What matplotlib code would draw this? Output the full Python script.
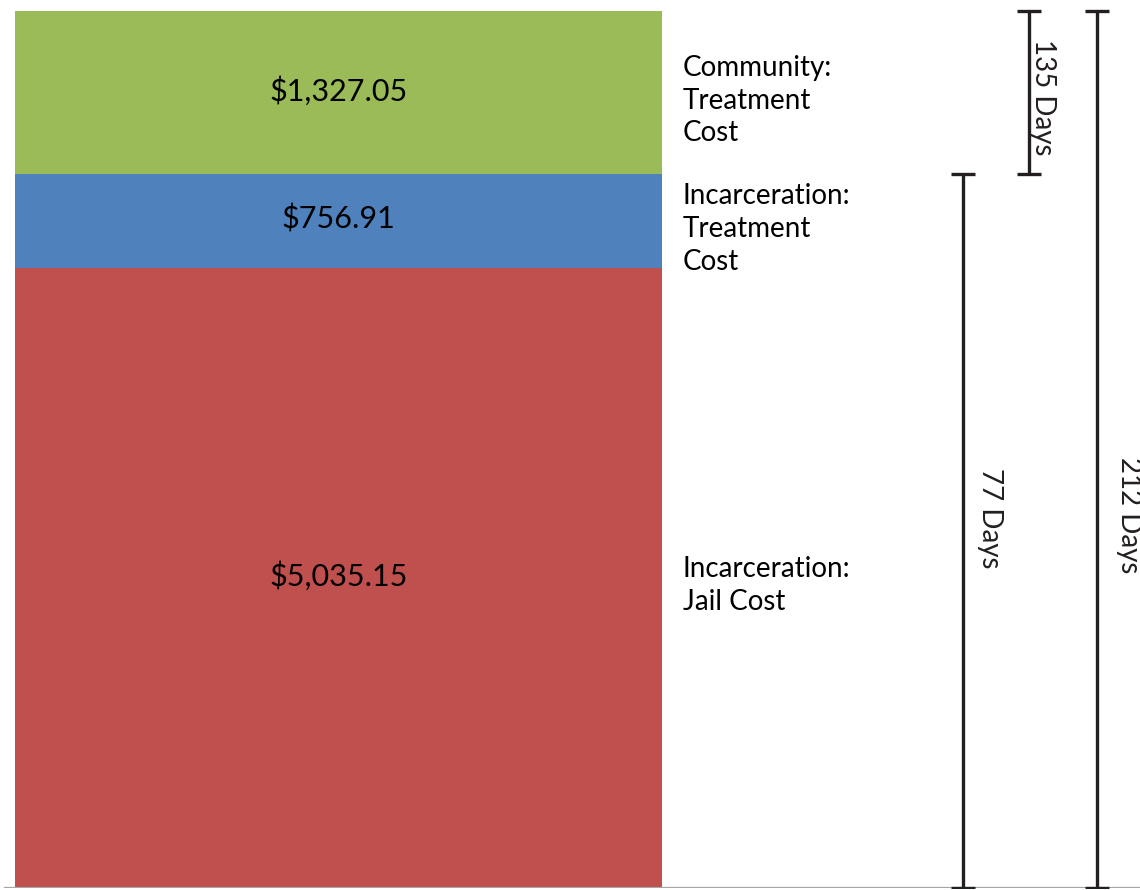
import matplotlib.pyplot as plt

# donnees du graphique
segments = ["Incarceration:\nJail Cost", "Incarceration:\nTreatment\nCost", "Community:\nTreatment\nCost"]
couts = [5035.15, 756.91, 1327.05]
couleurs = ["#C0504D", "#4F81BD", "#9BBB59"]
jours_incarc = 77
jours_commu = 135
jours_total = 212

total = sum(couts)
plt.rcParams['font.family'] = ['Lato', 'DejaVu Sans']

fig = plt.figure(figsize=(11.4, 8.9), dpi=100)
ax = fig.add_axes([0, 2 / 890, 1, 888 / 890])
ax.set_xlim(-0.5236, 1.2388)
ax.set_ylim(0, total * 888 / 877)
ax.axis('off')

# barre empilee
bas = 0
for nom, val, c in zip(segments, couts, couleurs):
    ax.bar(0, val, width=1, bottom=bas, color=c)
    ax.text(0, bas + val / 2 + total * 0.002, f"${val:,.2f}", ha='center', va='center', fontsize=22, color='black')
    ax.text(0.532, bas + val / 2 - total * 0.009, nom, ha='left', va='center', fontsize=20,
            linespacing=1.32, color='black')
    bas += val

# ligne de base grise
ax.axhline(0, xmin=5 / 1140, xmax=1, color='#A6A6A6', lw=1.6, zorder=1)

# accolades des durees
haut_incarc = couts[0] + couts[1]
brackets = [
    (0.965, 0, haut_incarc, f"{jours_incarc} Days", 0.042, 3000),
    (1.067, haut_incarc, total, f"{jours_commu} Days", 0.022, 6420),
    (1.172, 0, total, f"{jours_total} Days", 0.05, 3030),
]
for x, y0, y1, txt, dx, ytxt in brackets:
    ax.errorbar(x, (y0 + y1) / 2, yerr=(y1 - y0) / 2, fmt='none', ecolor='#231F20',
                elinewidth=2.4, capsize=8.3, capthick=2.4, zorder=3)
    ax.text(x + dx, ytxt, txt, rotation=-90, ha='center', va='center', fontsize=20, color='#231F20')

fig.savefig("out.png", dpi=100)
